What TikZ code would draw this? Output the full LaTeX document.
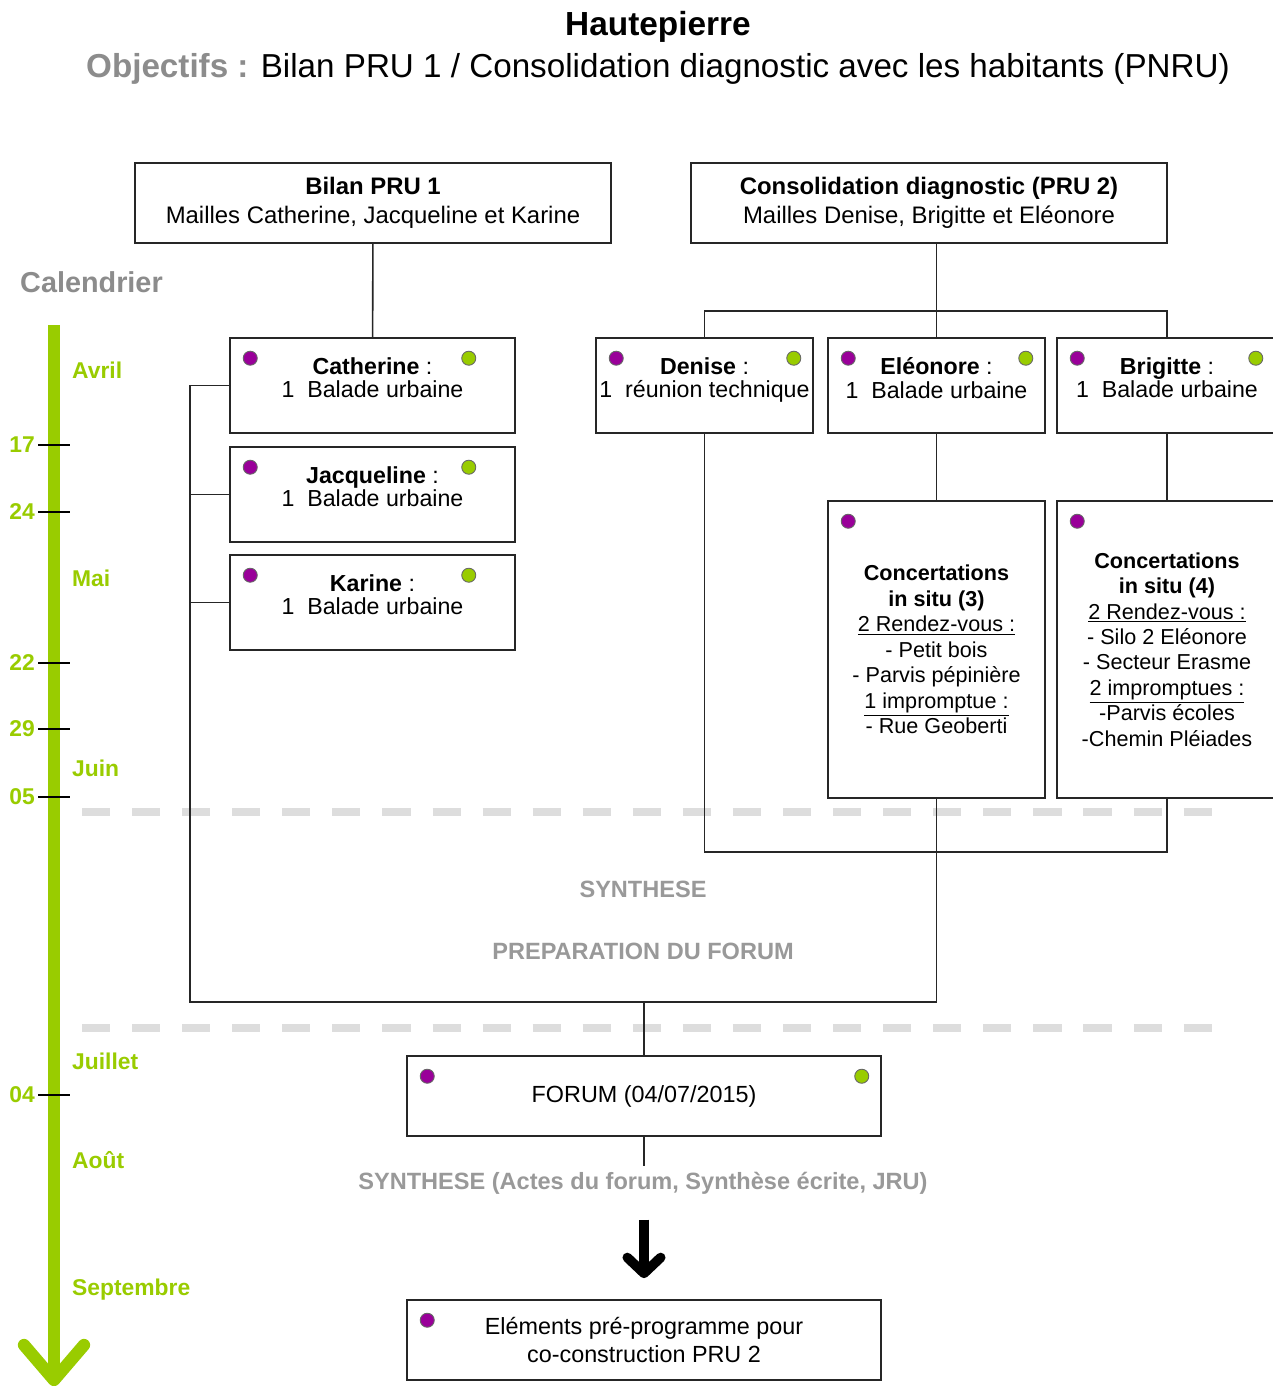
\documentclass[tikz,border=0pt]{standalone}
\usepackage{fontspec}
\setmainfont{Liberation Sans}
\usetikzlibrary{arrows.meta}
\definecolor{calgreen}{HTML}{99CC00}
\definecolor{dotviolet}{HTML}{990099}
\definecolor{txtgray}{HTML}{8C8C8C}
\definecolor{syngray}{HTML}{999999}
\definecolor{dashgray}{HTML}{DDDDDD}
\tikzset{
  box/.style={draw=black!85, line width=0.9pt, fill=white, align=center, inner sep=1pt,
    font=\fontsize{13.3}{16.4}\selectfont},
  headbox/.style={box, minimum width=9.52cm, minimum height=1.6cm, font=\fontsize{13.6}{16.4}\selectfont},
  maillebox/.style={box, minimum width=5.7cm, minimum height=1.9cm, text depth=9pt, font=\fontsize{13.2}{13.6}\selectfont},
  sitebox/.style={box, minimum width=4.34cm, minimum height=1.9cm, text depth=9pt, font=\fontsize{13.2}{13.6}\selectfont},
  concbox/.style={box, minimum width=4.34cm, minimum height=5.94cm, font=\fontsize{12.3}{14.5}\selectfont},
  link/.style={draw=black!85, line width=0.9pt},
  sepline/.style={dashgray, line width=4pt, dash pattern=on 16pt off 12.5pt},
  graytext/.style={syngray, font=\bfseries\fontsize{13.4}{16}\selectfont},
  month/.style={calgreen, anchor=west, font=\bfseries\fontsize{13}{15}\selectfont},
  daynum/.style={calgreen, anchor=east, inner sep=1pt, font=\bfseries\fontsize{13}{15}\selectfont},
  calbar/.style={calgreen, line width=7pt},
  bigarrow/.style={-{Straight Barb[round, length=9pt, width=19pt]}, line width=5.5pt},
  pdot/.style={fill=dotviolet, draw=black!60, line width=0.5pt},
  gdot/.style={fill=calgreen, draw=black!60, line width=0.5pt}
}
\newcommand{\violetdot}[1]{\filldraw[pdot] ([shift={(21,21)}]#1.north west) circle (4pt);}
\newcommand{\greendot}[2][20]{\filldraw[gdot] ([shift={(-#1,21)}]#2.north east) circle (4pt);}

\begin{document}
\begin{tikzpicture}[x=0.02cm, y=-0.02cm]
\useasboundingbox[fill=white] (0,0) rectangle (1272,1386);
% titre
\node[font=\bfseries\fontsize{19}{23}\selectfont] (title) at (658,27) {Hautepierre};
\node[font=\fontsize{18.9}{23}\selectfont] (obj) at (658,69) {{\color{txtgray}\bfseries Objectifs :} Bilan PRU 1 / Consolidation diagnostic avec les habitants (PNRU)};
% calendrier
\node[txtgray, anchor=west, font=\bfseries\fontsize{16.4}{19}\selectfont] (cal) at (14,282) {Calendrier};
\draw[calbar] (54,325) -- (54,1376);
\draw[calbar, line cap=round, line join=round] (24,1345) -- (54,1380) -- (84,1345);
\foreach \y/\d in {445/17, 512/24, 663/22, 729/29, 797/05, 1095/04} {
  \draw[black, line width=0.8pt] (38,\y) -- (70,\y);
  \node[daynum] (d\y) at (37,\y) {\d};
}
\foreach \y/\m in {370/Avril, 578/Mai, 768/Juin, 1061/Juillet, 1160/Août, 1290/Septembre}
  \node[month] (m\y) at (66,\y) {\m};
% separations
\draw[sepline] (82,812) -- (1215,812);
\draw[sepline] (82,1028) -- (1215,1028);
% bilan PRU 1
\node[headbox] (bilan) at (373,203) {\textbf{Bilan PRU 1}\\Mailles Catherine, Jacqueline et Karine};
\node[maillebox] (cat) at (372.5,385.5) {\textbf{Catherine} :\\1\ \ Balade urbaine};
\node[maillebox] (jac) at (372.5,494.5) {\textbf{Jacqueline} :\\1\ \ Balade urbaine};
\node[maillebox] (kar) at (372.5,602.5) {\textbf{Karine} :\\1\ \ Balade urbaine};
% consolidation diagnostic
\node[headbox] (cons) at (929,203) {\textbf{Consolidation diagnostic (PRU 2)}\\Mailles Denise, Brigitte et Eléonore};
\node[sitebox] (den) at (704.5,385.5) {\textbf{Denise} :\\1\ \ réunion technique};
\node[sitebox] (ele) at (936.5,385.5) {\textbf{Eléonore} :\\1\ \ Balade urbaine};
\node[sitebox, minimum width=4.4cm] (bri) at (1167,385.5) {\textbf{Brigitte} :\\1\ \ Balade urbaine};
\node[concbox] (eco) at (936.5,649.5) {\textbf{Concertations}\\\textbf{in situ (3)}\\\underline{2 Rendez-vous :}\\- Petit bois\\- Parvis pépinière\\\underline{1 impromptue :}\\- Rue Geoberti};
\node[concbox, minimum width=4.4cm] (bco) at (1167,649.5) {\textbf{Concertations}\\\textbf{in situ (4)}\\\underline{2 Rendez-vous :}\\- Silo 2 Eléonore\\- Secteur Erasme\\\underline{2 impromptues :}\\-Parvis écoles\\-Chemin Pléiades};
% points
\violetdot{cat} \greendot[47]{cat}
\violetdot{jac} \greendot[47]{jac}
\violetdot{kar} \greendot[47]{kar}
\violetdot{den} \greendot{den}
\violetdot{ele} \greendot{ele}
\violetdot{bri} \greendot[22]{bri}
\violetdot{eco} \violetdot{bco}
% synthese
\node[graytext] (syn) at (643,889) {SYNTHESE};
\node[graytext] (prep) at (643,951) {PREPARATION DU FORUM};
\node[box, minimum width=9.48cm, minimum height=1.6cm] (forum) at (644,1096) {FORUM (04/07/2015)};
\node[graytext] (synf) at (643,1183) {SYNTHESE (Actes du forum, Synthèse écrite, JRU)};
\node[box, minimum width=9.48cm, minimum height=1.6cm] (final) at (644,1340) {Eléments pré-programme pour\\co-construction PRU 2};
\violetdot{forum} \greendot{forum}
\violetdot{final}
% liens
\coordinate (lcorner) at (190,1002);
\coordinate (rtop) at (0,311);
\coordinate (rbot) at (0,852);
\draw[link] (bilan) -- (cat);
\draw[link] (cat.west) -| (lcorner) -| (eco.south);
\draw[link] (jac.west) -- (jac.west -| lcorner);
\draw[link] (kar.west) -- (kar.west -| lcorner);
\draw[link] (cons.south -| ele.north) -- (ele.north);
\draw[link] (den.north) |- (rtop -| ele.north) -| (bri.north);
\draw[link] (ele) -- (eco);
\draw[link] (bri) -- (bco);
\draw[link] (den.south) |- (rbot -| bco.south) -- (bco.south);
\draw[link] (forum.north) -- (forum.north |- lcorner);
\draw[link] (forum.south) -- (forum.south |- synf.north);
\draw[bigarrow, shorten <=11pt, shorten >=12pt] (forum.south |- synf.south) -- (forum.south |- final.north);
\end{tikzpicture}
\end{document}
